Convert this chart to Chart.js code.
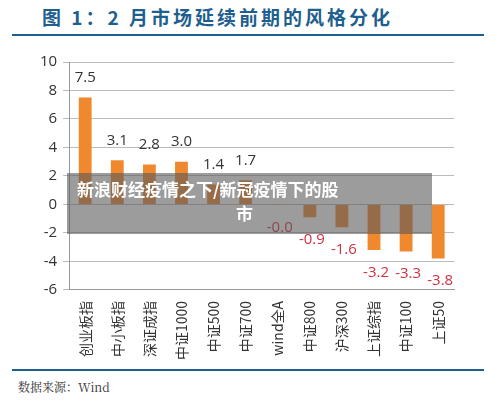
<!DOCTYPE html>
<html><head><meta charset="utf-8">
<script src="https://cdn.jsdelivr.net/npm/chart.js@4/dist/chart.umd.min.js"></script>
<style>
body{margin:0;background:#fff;width:500px;height:407px;position:relative;overflow:hidden;font-family:"Noto Sans CJK SC",sans-serif}
#title{position:absolute;left:42px;top:3px;font-size:19px;font-weight:bold;color:#1f5f8f;letter-spacing:3px}
#l1{position:absolute;left:12px;top:34px;width:472px;height:2px;background:#1f5f8f}
#l2{position:absolute;left:12px;top:369px;width:472px;height:2px;background:#1f5f8f}
#src{position:absolute;left:18px;top:378px;font-size:12px;color:#333;font-family:"Noto Serif CJK SC","Liberation Serif",serif}
#wrap{position:absolute;left:34px;top:47px;width:424px;height:316px}
#band{position:absolute;left:67px;top:173px;width:365px;height:61px;background:rgba(90,90,90,0.6);color:#fff;font-weight:bold;font-size:17px;line-height:24px;padding:4px 0 0 10px;box-sizing:border-box}
#band span{display:block;text-align:center;padding-right:20px}
</style></head><body>
<div id="title">图 1：2 月市场延续前期的风格分化</div>
<div id="l1"></div>
<div id="wrap"><canvas id="c"></canvas></div>
<div id="l2"></div>
<div id="src">数据来源：Wind</div>
<div id="band">新浪财经疫情之下/新冠疫情下的股<span>市</span></div>
<script>
const categories=["创业板指","中小板指","深证成指","中证1000","中证500","中证700","wind全A","中证800","沪深300","上证综指","中证100","上证50"];
const values=[7.5,3.1,2.8,3.0,1.4,1.7,-0.02,-0.9,-1.6,-3.2,-3.3,-3.8];
const labels=["7.5","3.1","2.8","3.0","1.4","1.7","-0.0","-0.9","-1.6","-3.2","-3.3","-3.8"];
const yTicks=[-6,-4,-2,0,2,4,6,8,10];
const lblPlugin={id:'lbl',afterDatasetsDraw(ch){const c=ch.ctx;const m=ch.getDatasetMeta(0);const y=ch.scales.y;c.save();c.font='15px "Open Sans",sans-serif';c.textAlign='center';
m.data.forEach((b,i)=>{const v=values[i];if(v>=0){c.fillStyle='#333';c.textBaseline='bottom';c.fillText(labels[i],b.x,y.getPixelForValue(v)-12);}else{c.fillStyle='#d03040';c.textBaseline='top';c.fillText(labels[i],b.x+2,y.getPixelForValue(v)+15);}});c.restore();}};
new Chart(document.getElementById('c'),{type:'bar',data:{labels:categories,datasets:[{data:values,backgroundColor:'#f0882e',barPercentage:0.4,categoryPercentage:1}]},
options:{responsive:true,maintainAspectRatio:false,animation:false,layout:{padding:{top:0,right:0}},plugins:{legend:{display:false},tooltip:{enabled:false}},
scales:{x:{grid:{display:false},border:{color:'#999'},ticks:{maxRotation:90,minRotation:90,color:'#333',font:{size:14,family:'"Noto Sans CJK SC"'}}},
y:{min:-6,max:10,afterBuildTicks(s){s.ticks=yTicks.map(v=>({value:v}));},grid:{color:'#bbb',tickLength:6},border:{display:true,color:'#999'},ticks:{color:'#333',font:{size:15,family:'"Open Sans"'},padding:6}}}},
plugins:[lblPlugin]});
</script></body></html>
